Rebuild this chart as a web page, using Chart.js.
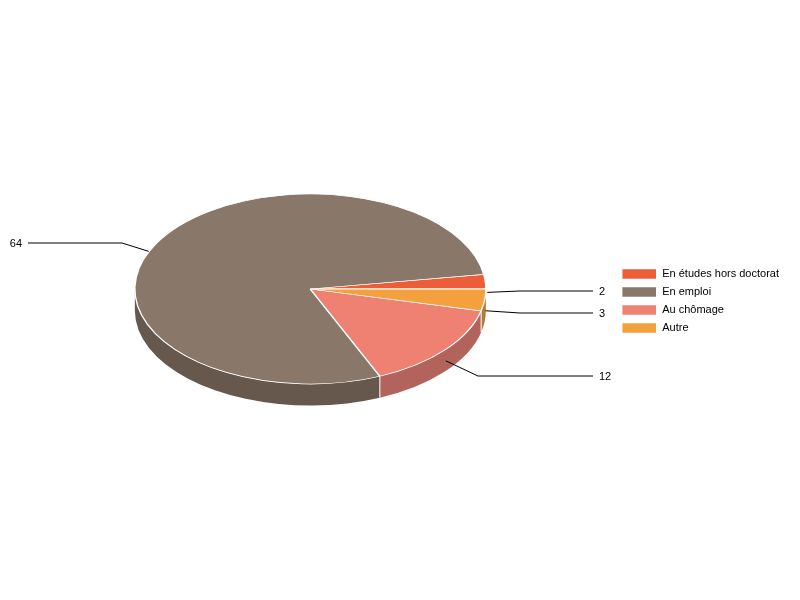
<!DOCTYPE html>
<html>
<head>
<meta charset="utf-8">
<title>Situation professionnelle</title>
<style>
  html, body { margin: 0; padding: 0; background: #fff; }
  #wrap { width: 800px; height: 600px; }
</style>
<script src="https://cdn.jsdelivr.net/npm/chart.js@4/dist/chart.umd.js"></script>
</head>
<body>
<div id="wrap"><canvas id="pie" width="800" height="600"></canvas></div>
<script>
const categories = ['En études hors doctorat', 'En emploi', 'Au chômage', 'Autre'];
const values = [2, 64, 12, 3];
const topColors = ['#EC5E3A', '#89776A', '#EF8173', '#F4A03F'];
const sideColors = ['#A64228', '#66584C', '#B2635B', '#B27B36'];

/* tilt of the disc and height of its wall */
const TILT = 95 / 175.5;
const DEPTH = 21.5;
const CENTER_Y = 289;

/* leader lines: bend x, label y, end x, nudge of the start point */
const leaders = [
  { bendX: 520, labelY: 291, endX: 593, dx: 2, dy: 0 },
  { bendX: 122, labelY: 243, endX: 28, dx: -8, dy: -2.5 },
  { bendX: 478, labelY: 376, endX: 593, dx: 1, dy: 0 },
  { bendX: 520, labelY: 313, endX: 593, dx: 1, dy: 0 }
];

const tiltedPie = {
  id: 'tiltedPie',
  beforeDatasetsDraw(chart) {
    const ctx = chart.ctx;
    const arcs = chart.getDatasetMeta(0).data;
    ctx.save();
    arcs.forEach((arc, i) => {
      const from = Math.max(arc.startAngle, Math.PI);
      const to = Math.min(arc.endAngle, Math.PI * 2);
      if (to <= from) return;
      const rx = arc.outerRadius, ry = rx * TILT;
      ctx.beginPath();
      ctx.ellipse(arc.x, CENTER_Y, rx, ry, 0, -from, -to, true);
      ctx.ellipse(arc.x, CENTER_Y + DEPTH, rx, ry, 0, -to, -from, false);
      ctx.closePath();
      ctx.fillStyle = sideColors[i];
      ctx.fill();
      /* white seam where two slices meet */
      if (from > Math.PI) {
        const sx = arc.x + rx * Math.cos(from), sy = CENTER_Y - ry * Math.sin(from);
        ctx.beginPath();
        ctx.moveTo(sx, sy);
        ctx.lineTo(sx, sy + DEPTH);
        ctx.strokeStyle = '#fff';
        ctx.lineWidth = 1;
        ctx.stroke();
      }
    });
    ctx.restore();

    /* squash the circle Chart.js draws; the y flip makes slices run anticlockwise */
    const a = arcs[0];
    ctx.save();
    ctx.translate(a.x, CENTER_Y);
    ctx.scale(1, -TILT);
    ctx.translate(-a.x, -a.y);
  },
  afterDatasetsDraw(chart) {
    const ctx = chart.ctx;
    ctx.restore();

    const arcs = chart.getDatasetMeta(0).data;
    ctx.save();
    ctx.font = '11px "Liberation Sans", Arial, sans-serif';
    ctx.textBaseline = 'middle';
    arcs.forEach((arc, i) => {
      const l = leaders[i];
      const mid = (arc.startAngle + arc.endAngle) / 2;
      const sx = arc.x + arc.outerRadius * Math.cos(mid) + l.dx;
      const sy = CENTER_Y - arc.outerRadius * TILT * Math.sin(mid) + DEPTH / 2 + l.dy;
      ctx.beginPath();
      ctx.moveTo(sx, sy);
      ctx.lineTo(l.bendX, l.labelY);
      ctx.lineTo(l.endX, l.labelY);
      ctx.strokeStyle = '#000';
      ctx.lineWidth = 1;
      ctx.stroke();
      ctx.fillStyle = '#000';
      const right = l.endX < arc.x;
      ctx.textAlign = right ? 'right' : 'left';
      ctx.fillText(String(values[i]), l.endX + (right ? -6 : 6), l.labelY + 0.5);
    });
    ctx.restore();
  }
};

new Chart(document.getElementById('pie'), {
  type: 'pie',
  data: {
    labels: categories,
    datasets: [{
      data: values,
      backgroundColor: topColors,
      borderColor: '#fff',
      borderWidth: 1.4,
      clip: false
    }]
  },
  options: {
    responsive: false,
    animation: false,
    rotation: 90,
    radius: 175.5,
    layout: { padding: { left: 6, right: 11, top: 2, bottom: 0 } },
    plugins: {
      tooltip: { enabled: false },
      legend: {
        position: 'right',
        align: 'center',
        labels: {
          boxWidth: 35,
          boxHeight: 11,
          padding: 7,
          color: '#000',
          font: { size: 11, family: '"Liberation Sans", Arial, sans-serif' }
        }
      }
    }
  },
  plugins: [tiltedPie]
});
</script>
</body>
</html>
